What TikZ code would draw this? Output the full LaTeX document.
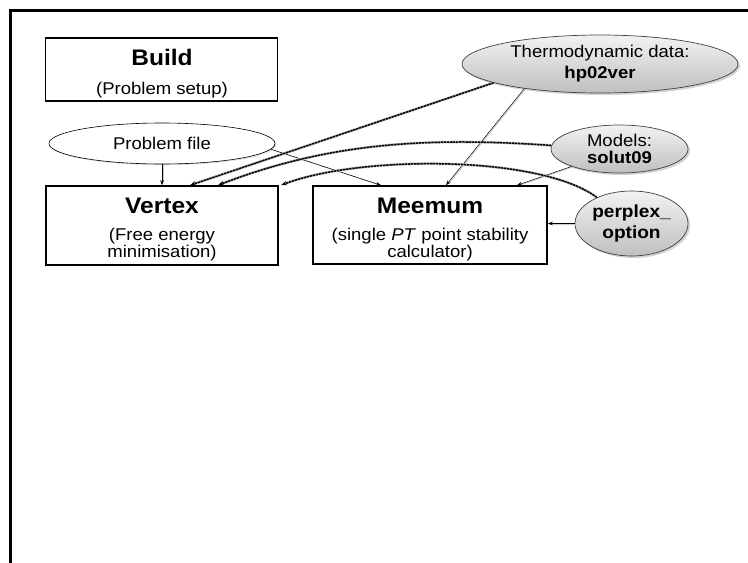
\documentclass[tikz,border=0pt]{standalone}
\usepackage{fontspec}
\setmainfont{Liberation Sans}
% slightly widened face, as in the drawing's labels
\newfontfamily\wideface[FakeStretch=1.09]{Liberation Sans}
\usetikzlibrary{shapes.geometric,arrows.meta,shadows}

\begin{document}
\begin{tikzpicture}[x=1pt,y=-1pt,
  box/.style={draw, line width=1.5pt, rectangle, inner sep=0pt},
  title/.style={anchor=base, inner sep=0pt, font=\wideface\fontsize{22.5}{24}\selectfont\bfseries},
  sub/.style={anchor=base, inner sep=0pt, font=\wideface\fontsize{17}{18}\selectfont},
  plainell/.style={ellipse, draw, line width=0.6pt, fill=white, inner sep=0pt,
    drop shadow={shadow xshift=1.2pt, shadow yshift=-1.2pt, opacity=0.25}},
  dataell/.style={ellipse, draw=black!75, line width=0.7pt, inner sep=0pt,
    top color=gray!10, bottom color=gray!50, align=center,
    drop shadow={shadow xshift=2pt, shadow yshift=-2pt, opacity=0.35}},
  thinarr/.style={-{Stealth[length=5pt,width=3.5pt]}, line width=0.5pt,
    preaction={draw=gray!40, line width=0.9pt, -, shorten >=3pt,
      transform canvas={shift={(1pt,-0.6pt)}}}},
  heavy/.style={-{Stealth[length=6pt,width=4.5pt]}, line width=1.5pt, draw=black,
    dash pattern=on 2.4pt off 0.7pt,
    preaction={draw=gray!50, line width=2.6pt, -, solid, shorten >=4pt}}
]
\useasboundingbox (0,0) rectangle (748,563);

% outer frame (open towards the right and bottom)
\draw[line width=3pt] (10.5,563) -- (10.5,10.5) -- (748,10.5);

% program boxes
\node[box, minimum width=232pt, minimum height=63pt] (build) at (161.5,69.5) {};
\node[title] (buildt) at (162,65) {Build};
\node[sub] (builds) at (162,94.5) {(Problem setup)};

\node[box, minimum width=232pt, minimum height=79pt] (vertex) at (162,225.5) {};
\node[title] (vertext) at (162,213) {Vertex};
\node[sub] (vertexa) at (162,240.5) {(Free energy};
\node[sub] (vertexb) at (162,257) {minimisation)};

\node[box, minimum width=234pt, minimum height=78pt] (meemum) at (430,225) {};
\node[title] (meemumt) at (430,213) {Meemum};
\node[sub] (meemuma) at (430,240.5) {(single \textit{PT} point stability};
\node[sub] (meemumb) at (430,257) {calculator)};

% input files
\node[plainell, minimum width=226pt, minimum height=41pt,
  font=\wideface\fontsize{17}{18}\selectfont] (pfile) at (162,143.5) {Problem file};

\node[dataell, minimum width=276pt, minimum height=58pt,
  font=\wideface\fontsize{17}{21}\selectfont] (hp) at (600,64)
  {Thermodynamic data:\\\textbf{hp02ver}};
\node[dataell, minimum width=137pt, minimum height=48pt,
  font=\wideface\fontsize{17}{16.5}\selectfont] (models) at (619.5,149)
  {Models:\\\textbf{solut09}};
\node[dataell, minimum width=113pt, minimum height=65pt,
  font=\wideface\fontsize{17.5}{21}\selectfont\bfseries] (popt) at (631.5,223.5)
  {perplex\_\\option};

% inputs read by meemum
\draw[thinarr] (pfile.south) -- (vertex.north);
\draw[thinarr] (pfile.-3) -- ([xshift=-49pt]meemum.north);
\draw[thinarr] (hp.198) -- ([xshift=16pt]meemum.north);
\draw[thinarr] (models.200) -- ([xshift=87pt]meemum.north);
\draw[thinarr] (popt.west) -- (popt.west -| meemum.east);

% inputs read by vertex
\draw[heavy] (hp.190) -- ([xshift=28pt]vertex.north);
\draw[heavy] (models.177) .. controls (430,137) and (330,142) .. ([xshift=56pt]vertex.north);
\draw[heavy] (popt.143) .. controls (540,155) and (360,155) .. ([xshift=119pt]vertex.north);
\end{tikzpicture}
\end{document}
